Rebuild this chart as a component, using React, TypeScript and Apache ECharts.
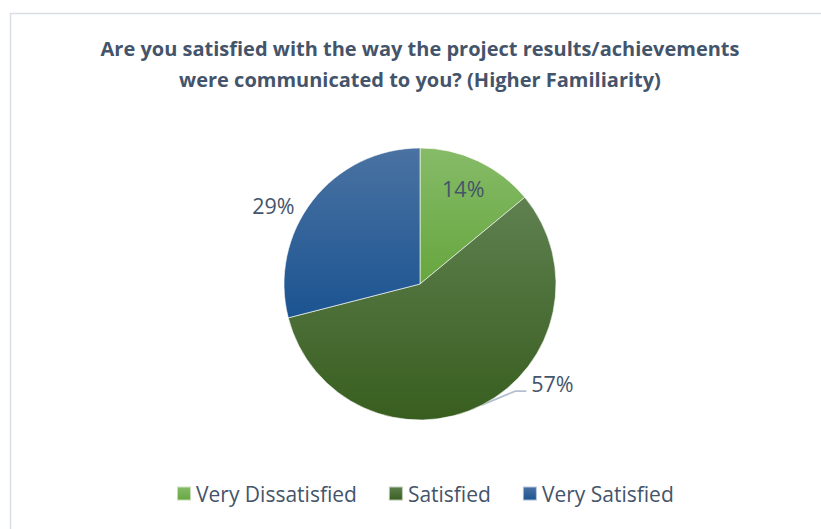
import React, { useEffect, useRef } from "react";
import * as echarts from "echarts";

const categories = ["Very Dissatisfied", "Satisfied", "Very Satisfied"];
const values = [14, 57, 29];
const titleText = "Are you satisfied with the way the project results/achievements\nwere communicated to you? (Higher Familiarity)";

const colorStops: [string, string][] = [
  ["#86bb68", "#66a63e"],
  ["#5f8050", "#385e1f"],
  ["#4a72a2", "#1b5491"],
];

export default function App() {
  const ref = useRef<HTMLDivElement>(null);
  useEffect(() => {
    document.body.style.margin = "0";
    if (!ref.current) return;
    const chart = echarts.init(ref.current, undefined, { renderer: "svg" });
    const textColor = "#44546a";
    const font = "'Open Sans', 'Noto Sans', sans-serif";
    chart.setOption({
      animation: false,
      backgroundColor: "#ffffff",
      title: {
        text: titleText,
        left: "center",
        top: 28,
        textStyle: {
          fontFamily: font,
          fontWeight: "bold",
          fontSize: 20,
          color: textColor,
          lineHeight: 31,
        },
      },
      graphic: [
        {
          type: "rect",
          left: 8,
          top: 11,
          shape: { width: 900, height: 600 },
          style: { fill: "none", stroke: "#d9dee5", lineWidth: 1.5 },
          silent: true,
        },
      ],
      legend: {
        bottom: 20,
        left: 171,
        itemWidth: 14,
        itemHeight: 14,
        itemGap: 31,
        icon: "rect",
        textStyle: { fontFamily: font, fontSize: 21, color: textColor },
        data: categories,
      },
      series: [
        {
          type: "pie",
          center: [420, 284],
          radius: 136,
          startAngle: 90,
          clockwise: true,
          itemStyle: { borderColor: "rgba(255,255,255,0.6)", borderWidth: 1 },
          label: {
            formatter: "{d}%",
            fontFamily: font,
            fontSize: 21.5,
            color: textColor,
          },
          labelLine: {
            lineStyle: { color: "#b4c0d0", width: 1.8 },
          },
          labelLayout: (params: any) => {
            if (params.dataIndex === 1 && params.labelLinePoints) {
              const lx = params.labelRect.x + 10;
              const cy = params.labelRect.y + params.labelRect.height / 2 - 31;
              const p0 = params.labelLinePoints[0];
              return {
                x: lx,
                y: cy,
                labelLinePoints: [p0, [lx - 16, cy + 8], [lx - 5, cy + 8]],
              };
            }
            if (params.dataIndex === 2) {
              return { dy: 5 };
            }
            return {};
          },
          data: categories.map((name, i) => ({
            name,
            value: values[i],
            itemStyle: {
              color: new echarts.graphic.LinearGradient(0, 0, 0, 1, [
                { offset: 0, color: colorStops[i][0] },
                { offset: 1, color: colorStops[i][1] },
              ]),
            },
            label:
              i === 0
                ? { position: "inside", offset: [13, -31] }
                : { position: "outside" },
            labelLine:
              i === 2
                ? { show: false, length: 0, length2: 13 }
                : { show: true, length: 10, length2: 30 },
          })),
        },
      ],
    });
    return () => chart.dispose();
  }, []);
  return (
    <div style={{ width: 821, height: 529, overflow: "hidden" }}>
      <div ref={ref} style={{ width: 840, height: 529 }} />
    </div>
  );
}
